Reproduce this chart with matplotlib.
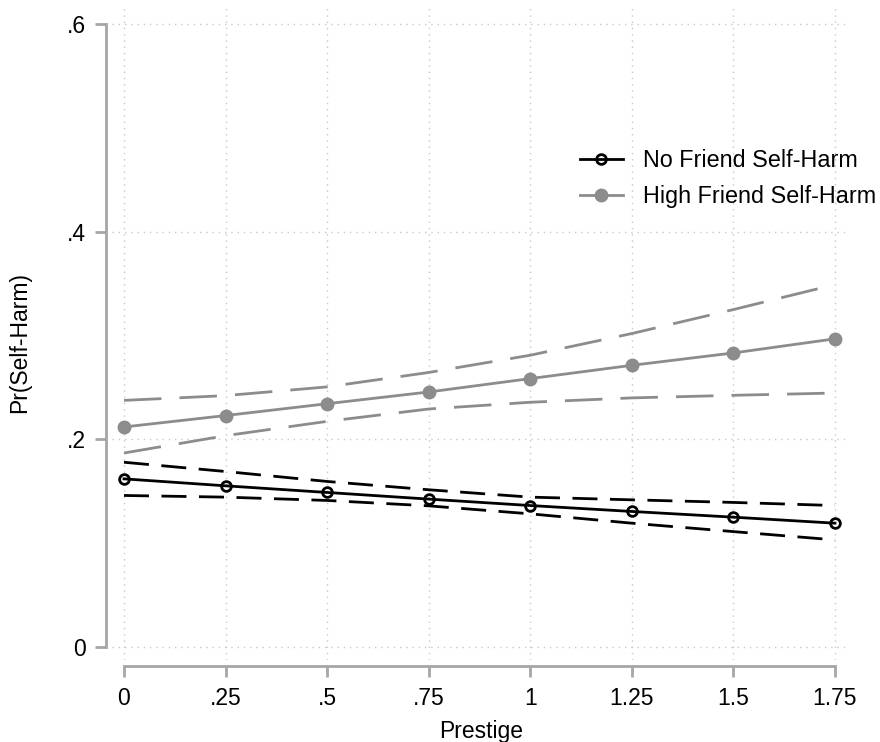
import numpy as np
import matplotlib
matplotlib.use("Agg")
import matplotlib.pyplot as plt

plt.rcParams['font.family'] = ['Liberation Sans', 'DejaVu Sans']

# Prestige values (x) and predicted probabilities with 95% CI
prestige = [0, 0.25, 0.5, 0.75, 1, 1.25, 1.5, 1.75]
xtick_labels = ["0", ".25", ".5", ".75", "1", "1.25", "1.5", "1.75"]
ytick_vals = [0, 0.2, 0.4, 0.6]
ytick_labels = ["0", ".2", ".4", ".6"]

no_friend = [0.162, 0.1553, 0.1489, 0.1425, 0.1363, 0.1306, 0.1251, 0.1193]
no_friend_hi = [0.178, 0.1691, 0.1595, 0.1515, 0.1444, 0.1418, 0.1393, 0.1363]
no_friend_lo = [0.146, 0.1444, 0.1412, 0.1360, 0.1283, 0.1193, 0.1112, 0.1032]

high_friend = [0.212, 0.223, 0.2344, 0.2457, 0.2586, 0.2714, 0.2833, 0.2969]
high_friend_hi = [0.2376, 0.2422, 0.2506, 0.2645, 0.2811, 0.302, 0.3251, 0.3492]
high_friend_lo = [0.1869, 0.2036, 0.2174, 0.2293, 0.2358, 0.24, 0.2425, 0.2447]

grey = '#8c8c8c'
axis_grey = '#a6a6a6'

fig = plt.figure(figsize=(8.8, 7.42), dpi=100)
ax = fig.add_axes([112 / 880, 1 - 660 / 742, 738 / 880, 655 / 742])

# confidence bands
ax.plot(prestige, high_friend_hi, color=grey, lw=2, dashes=(13.5, 6.5))
ax.plot(prestige, high_friend_lo, color=grey, lw=2, dashes=(13.5, 6.5))
ax.plot(prestige, no_friend_hi, color='black', lw=2, dashes=(9, 4.5))
ax.plot(prestige, no_friend_lo, color='black', lw=2, dashes=(9, 4.5))

# predicted lines
ax.plot(prestige, no_friend, color='black', lw=2, marker='o', ms=7,
        mfc='none', mec='black', mew=2, label='No Friend Self-Harm', zorder=4)
ax.plot(prestige, high_friend, color=grey, lw=2, marker='o', ms=9,
        mfc=grey, mec=grey, label='High Friend Self-Harm', zorder=4)

ax.set_xlim(-0.0295, 1.787)
ax.set_ylim(-0.0125, 0.6185)

ax.set_xticks(prestige)
ax.set_xticklabels(xtick_labels)
ax.set_yticks(ytick_vals)
ax.set_yticklabels(ytick_labels)

ax.grid(True, color='#c8c8c8', linestyle=(0, (1, 3.5)), lw=1)
ax.set_axisbelow(True)

for side in ['top', 'right']:
    ax.spines[side].set_visible(False)
for side in ['left', 'bottom']:
    ax.spines[side].set_color(axis_grey)
    ax.spines[side].set_linewidth(2)
    ax.spines[side].set_position(('outward', 4.5))
ax.spines['left'].set_bounds(0, 0.6)
ax.spines['bottom'].set_bounds(0, 1.75)

ax.tick_params(axis='both', colors=axis_grey, width=2, length=8,
               labelcolor='black', labelsize=16.5)
ax.tick_params(axis='x', pad=7)
ax.tick_params(axis='y', pad=6)

ax.set_xlabel('Prestige', fontsize=16.5)
ax.set_ylabel('Pr(Self-Harm)', fontsize=16.5)
ax.xaxis.set_label_coords(0.5, -0.092)
ax.yaxis.set_label_coords(-0.11, 0.485)

ax.legend(loc='upper left', bbox_to_anchor=(0.634, 0.78), frameon=False,
          fontsize=16.8, handlelength=1.85, handletextpad=0.85,
          labelspacing=0.56, borderpad=0, borderaxespad=0)

fig.savefig('out.png', dpi=100)
